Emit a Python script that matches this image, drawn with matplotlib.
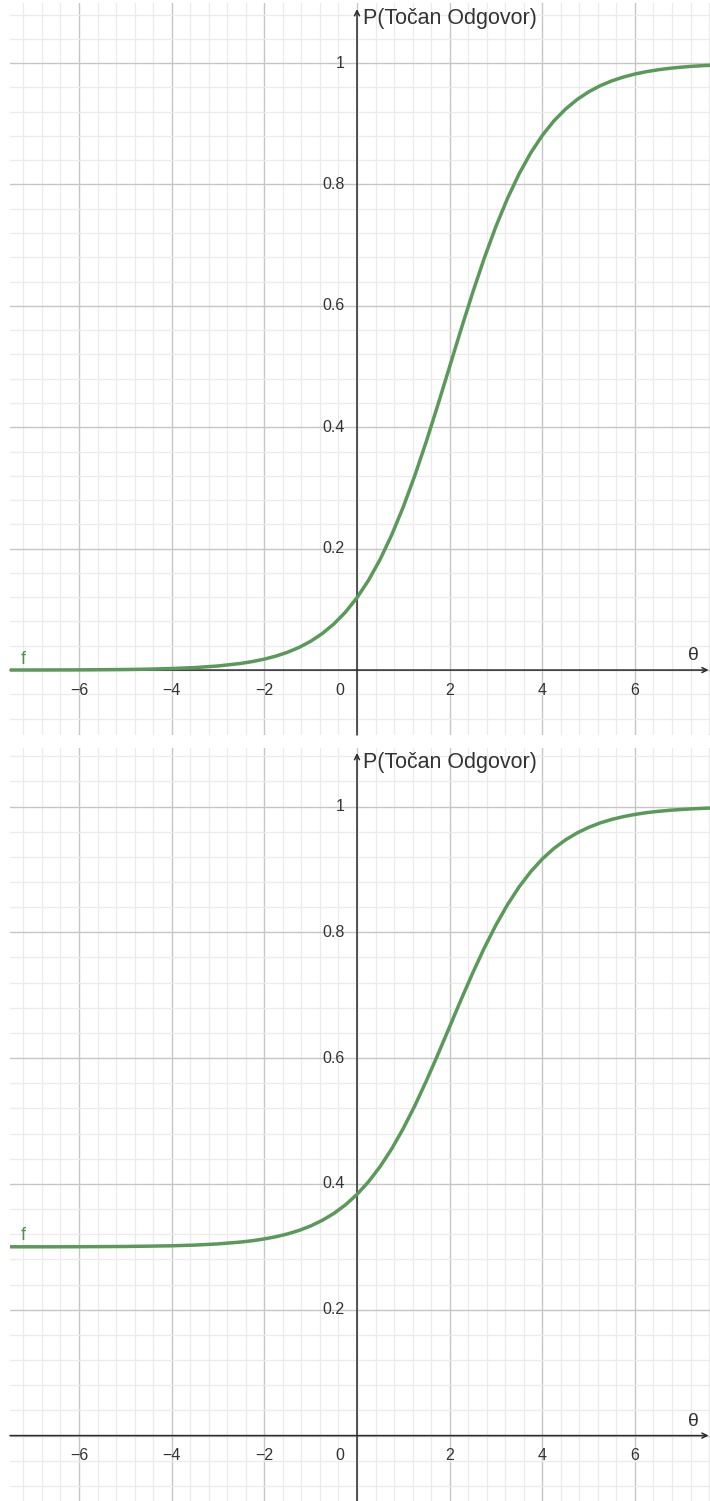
import matplotlib
matplotlib.use("Agg")
import matplotlib.pyplot as plt
from matplotlib.ticker import MultipleLocator

# ---- data ----
theta = [-7.5, -7.0, -6.5, -6.0, -5.5, -5.0, -4.5, -4.0, -3.5, -3.0, -2.5,
         -2.25, -2.0, -1.75, -1.5, -1.25, -1.0, -0.75, -0.5, -0.25, 0.0,
         0.25, 0.5, 0.75, 1.0, 1.25, 1.5, 1.75, 2.0, 2.25, 2.5, 2.75, 3.0,
         3.25, 3.5, 3.75, 4.0, 4.25, 4.5, 4.75, 5.0, 5.25, 5.5, 5.75, 6.0,
         6.25, 6.5, 6.75, 7.0, 7.25, 7.5, 7.75]

p_top = [0.0001, 0.0001, 0.0002, 0.0003, 0.0006, 0.0009, 0.0015, 0.0025, 0.0041, 0.0067, 0.0110,
         0.0141, 0.0180, 0.0230, 0.0293, 0.0373, 0.0474, 0.0601, 0.0759, 0.0953, 0.1192,
         0.1480, 0.1824, 0.2227, 0.2689, 0.3208, 0.3775, 0.4378, 0.5000, 0.5622, 0.6225,
         0.6792, 0.7311, 0.7773, 0.8176, 0.8520, 0.8808, 0.9047, 0.9241, 0.9399, 0.9526,
         0.9627, 0.9707, 0.9770, 0.9820, 0.9859, 0.9890, 0.9914, 0.9933, 0.9948, 0.9959, 0.9968]

p_bottom = [0.3001, 0.3001, 0.3001, 0.3002, 0.3004, 0.3006, 0.3011, 0.3017, 0.3028, 0.3047, 0.3077,
            0.3098, 0.3126, 0.3161, 0.3205, 0.3261, 0.3332, 0.3421, 0.3531, 0.3667, 0.3834,
            0.4036, 0.4277, 0.4559, 0.4883, 0.5246, 0.5643, 0.6065, 0.6500, 0.6935, 0.7357,
            0.7754, 0.8117, 0.8441, 0.8723, 0.8964, 0.9166, 0.9333, 0.9469, 0.9579, 0.9668,
            0.9739, 0.9795, 0.9839, 0.9874, 0.9902, 0.9923, 0.9940, 0.9953, 0.9963, 0.9972, 0.9978]

x_ticks = [-6, -4, -2, 2, 4, 6]
x_tick_labels = ["\u22126", "\u22124", "\u22122", "2", "4", "6"]
y_ticks = [0.2, 0.4, 0.6, 0.8, 1.0]
y_tick_labels = ["0.2", "0.4", "0.6", "0.8", "1"]
y_axis_title = "P(Točan Odgovor)"
x_axis_title = "θ"
func_name = "f"

plt.rcParams['font.family'] = ['Liberation Sans', 'DejaVu Sans']

W, H = 710, 1501
fig = plt.figure(figsize=(W / 100, H / 100), dpi=100)

CURVE = '#5a995a'
AX = '#2b2b2b'
TXT = '#333333'

panels = [
    dict(series=p_top, rect=(10, 3, 735), ylim=(-0.107, 1.099), arrow_top=1.089,
         title_y=1.090, f_y=0.004),
    dict(series=p_bottom, rect=(10, 748, 1501), ylim=(-0.104, 1.093), arrow_top=1.085,
         title_y=1.086, f_y=0.304),
]
xlim = (-7.49, 7.62)

for p in panels:
    left, top, bottom = p['rect']
    ax = fig.add_axes([left / W, 1 - bottom / H, (W - left) / W, (bottom - top) / H])
    ax.set_xlim(*xlim)
    ax.set_ylim(*p['ylim'])
    ax.set_facecolor('white')

    # grid
    ax.xaxis.set_major_locator(MultipleLocator(2))
    ax.yaxis.set_major_locator(MultipleLocator(0.2))
    ax.xaxis.set_minor_locator(MultipleLocator(0.4))
    ax.yaxis.set_minor_locator(MultipleLocator(0.04))
    ax.grid(which='major', color='#c6c6c6', lw=1.0, zorder=0)
    ax.grid(which='minor', color='#ebebeb', lw=0.9, zorder=0)
    ax.set_axisbelow(True)
    ax.tick_params(which='both', length=0)
    ax.set_xticklabels([])
    ax.set_yticklabels([])

    for s in ax.spines.values():
        s.set_visible(False)

    # axes lines with arrows
    ax.annotate('', xy=(xlim[1] - 0.03, 0), xytext=(xlim[0], 0),
                arrowprops=dict(arrowstyle='->', lw=1.1, color=AX,
                                shrinkA=0, shrinkB=0, mutation_scale=9), zorder=3)
    ax.annotate('', xy=(0, p['arrow_top']), xytext=(0, p['ylim'][0]),
                arrowprops=dict(arrowstyle='->', lw=1.1, color=AX,
                                shrinkA=0, shrinkB=0, mutation_scale=9), zorder=3)

    # tick labels along the axes
    for xv, lab in zip(x_ticks, x_tick_labels):
        ax.annotate(lab, xy=(xv, 0), xytext=(0, -9), textcoords='offset points',
                    ha='center', va='top', fontsize=11.5, color=TXT)
    for yv, lab in zip(y_ticks, y_tick_labels):
        ax.annotate(lab, xy=(0, yv), xytext=(-9, 0), textcoords='offset points',
                    ha='right', va='center', fontsize=11.5, color=TXT)
    ax.annotate('0', xy=(0, 0), xytext=(-9, -9), textcoords='offset points',
                ha='right', va='top', fontsize=11.5, color=TXT)

    # axis titles
    ax.annotate(y_axis_title, xy=(0, p['title_y']), xytext=(4, 0),
                textcoords='offset points', ha='left', va='top',
                fontsize=15.5, color=TXT)
    ax.annotate(x_axis_title, xy=(7.27, 0), xytext=(0, 4),
                textcoords='offset points', ha='center', va='bottom',
                fontsize=14, color=TXT)

    # curve
    ax.plot(theta, p['series'], color=CURVE, lw=2.5, solid_capstyle='round',
            solid_joinstyle='round', zorder=4, clip_on=True)
    ax.text(-7.21, p['f_y'], func_name, color='#4f8f4f', fontsize=13,
            ha='center', va='bottom', zorder=5)

fig.savefig('out.png', dpi=100, facecolor='white')
